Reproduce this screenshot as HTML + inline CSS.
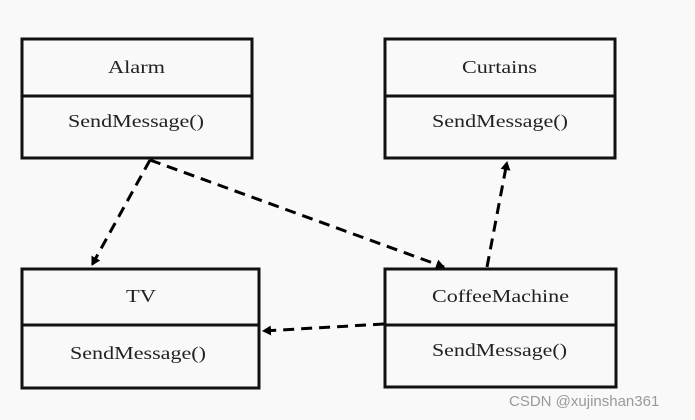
<!DOCTYPE html>
<html><head><style>
html,body{margin:0;padding:0;background:#f9f9f9;width:695px;height:420px;overflow:hidden}
svg text{font-family:"Liberation Serif",serif;font-size:18px;fill:#222}
</style></head><body>
<svg width="695" height="420" xmlns="http://www.w3.org/2000/svg">
<defs><marker id="a" markerWidth="10" markerHeight="10" refX="8" refY="5" orient="auto" markerUnits="userSpaceOnUse"><path d="M0,0 L9,5 L0,10 Z" fill="#000"/></marker></defs>
<g fill="none" stroke="#111" stroke-width="3">
<rect x="22" y="39" width="230" height="119"/><line x1="22" y1="96" x2="252" y2="96"/>
<rect x="385" y="39" width="230" height="119"/><line x1="385" y1="96" x2="615" y2="96"/>
<rect x="22" y="269" width="237" height="119"/><line x1="22" y1="325" x2="259" y2="325"/>
<rect x="385" y="269" width="231" height="118"/><line x1="385" y1="325" x2="616" y2="325"/>
</g>
<g fill="none" stroke="#000" stroke-width="3" stroke-dasharray="11,7">
<line x1="150" y1="160" x2="92" y2="265" marker-end="url(#a)"/>
<line x1="150" y1="160" x2="444" y2="267" marker-end="url(#a)"/>
<line x1="487" y1="267" x2="507" y2="162" marker-end="url(#a)"/>
<line x1="384" y1="324" x2="263" y2="331" marker-end="url(#a)"/>
</g>
<text x="108" y="73" textLength="57" lengthAdjust="spacingAndGlyphs">Alarm</text>
<text x="68" y="127" textLength="136" lengthAdjust="spacingAndGlyphs">SendMessage()</text>
<text x="462" y="73" textLength="75" lengthAdjust="spacingAndGlyphs">Curtains</text>
<text x="432" y="127" textLength="136" lengthAdjust="spacingAndGlyphs">SendMessage()</text>
<text x="126" y="302" textLength="30" lengthAdjust="spacingAndGlyphs">TV</text>
<text x="70" y="359" textLength="136" lengthAdjust="spacingAndGlyphs">SendMessage()</text>
<text x="432" y="302" textLength="137" lengthAdjust="spacingAndGlyphs">CoffeeMachine</text>
<text x="432" y="356" textLength="135" lengthAdjust="spacingAndGlyphs">SendMessage()</text>
<text x="509" y="406" style="font-family:'Liberation Sans',sans-serif;font-size:15px;fill:#999">CSDN @xujinshan361</text>
</svg>
</body></html>
